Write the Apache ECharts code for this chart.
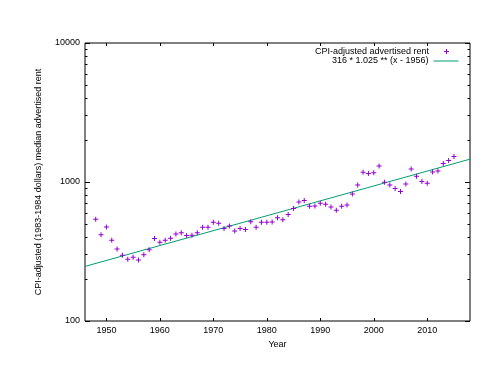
<!DOCTYPE html>
<html>
<head>
<meta charset="utf-8">
<script src="https://cdn.jsdelivr.net/npm/echarts@6/dist/echarts.min.js"></script>
<style>html,body{margin:0;padding:0;background:#fff;}#c{width:500px;height:386px;}</style>
</head>
<body>
<div id="c"></div>
<script>
var years = [1948,1949,1950,1951,1952,1953,1954,1955,1956,1957,1958,1959,1960,1961,1962,1963,1964,1965,1966,1967,1968,1969,1970,1971,1972,1973,1974,1975,1976,1977,1978,1979,1980,1981,1982,1983,1984,1985,1986,1987,1988,1989,1990,1991,1992,1993,1994,1995,1996,1997,1998,1999,2000,2001,2002,2003,2004,2005,2006,2007,2008,2009,2010,2011,2012,2013,2014,2015];
var rent = [539,418,475,381,330,297,278,287,275,300,326,392,368,381,394,423,432,412,414,432,472,472,513,505,462,483,444,462,455,517,472,513,513,515,554,536,583,644,718,735,669,672,703,691,661,626,669,683,820,952,1174,1149,1168,1304,995,952,897,853,967,1240,1099,1007,979,1180,1200,1357,1426,1523];
var trendYears = [1946, 2018];
var trendValues = [247, 1460];
var xTickLabels = [1950,1960,1970,1980,1990,2000,2010];
var yTickLabels = [100,1000,10000];
var yMinorTicks = [200,300,400,500,600,700,800,900,2000,3000,4000,5000,6000,7000,8000,9000];

var scatterData = years.map(function(y,i){return [y, rent[i]];});
var trendData = trendYears.map(function(y,i){return [y, trendValues[i]];});
var minorLog = yMinorTicks.map(function(v){return Math.log10(v);});

var FONT = 'Liberation Sans, Arial, Helvetica, sans-serif';
var ser1 = 'CPI-adjusted advertised rent';
var ser2 = '316 * 1.025 ** (x - 1956)';
var plus = 'path://M4,0H6V4H10V6H6V10H4V6H0V4H4Z';

var chart = echarts.init(document.getElementById('c'), null, {renderer:'canvas'});
var xBase = {
  type:'value', min:1946, max:2018,
  axisLine:{show:false},
  splitLine:{show:false},
  axisTick:{show:true, inside:true, length:3, customValues:xTickLabels, lineStyle:{color:'#000', width:1}}
};
chart.setOption({
  animation:false,
  backgroundColor:'#fff',
  textStyle:{fontFamily:FONT},
  grid:{left:85, right:30, top:43, bottom:65, show:true, borderColor:'#000', borderWidth:1, containLabel:false},
  legend:[
    {data:[{name:ser1}], right:51, top:47, padding:0, align:'right', itemWidth:25, itemHeight:5, itemGap:0,
     textStyle:{fontFamily:FONT, fontSize:9, color:'#000'}},
    {data:[{name:ser2, itemStyle:{opacity:0}}], right:41, top:56.5, padding:0, align:'right', itemWidth:25, itemHeight:5, itemGap:0,
     lineStyle:{width:1},
     textStyle:{fontFamily:FONT, fontSize:9, color:'#000'}}
  ],
  xAxis:[
    Object.assign({}, xBase, {position:'bottom', name:'Year', nameLocation:'middle', nameGap:16,
      nameTextStyle:{fontFamily:FONT, fontSize:9, color:'#000'},
      axisLabel:{show:true, customValues:xTickLabels, fontFamily:FONT, fontSize:9, color:'#000', margin:5,
        formatter:function(v){return String(v);}}}),
    Object.assign({}, xBase, {position:'top', axisLabel:{show:false}})
  ],
  yAxis:[
    {type:'log', logBase:10, min:100, max:10000, interval:1, position:'left',
     name:'CPI-adjusted (1983-1984 dollars) median advertised rent', nameLocation:'middle', nameGap:42,
     nameTextStyle:{fontFamily:FONT, fontSize:9, color:'#000'},
     axisLine:{show:false}, splitLine:{show:false},
     axisTick:{show:true, inside:true, length:5, lineStyle:{color:'#000'}},
     axisLabel:{fontFamily:FONT, fontSize:9, color:'#000', margin:5,
       formatter:function(v){return String(Math.round(v));}}},
    {type:'log', logBase:10, min:100, max:10000, interval:1, position:'right',
     axisLine:{show:false}, splitLine:{show:false},
     axisTick:{show:true, inside:true, length:5, lineStyle:{color:'#000'}},
     axisLabel:{show:false}},
    {type:'value', min:2, max:4, position:'left',
     axisLine:{show:false}, splitLine:{show:false}, axisLabel:{show:false},
     axisTick:{show:true, inside:true, length:2.5, customValues:minorLog, lineStyle:{color:'#000'}}},
    {type:'value', min:2, max:4, position:'right',
     axisLine:{show:false}, splitLine:{show:false}, axisLabel:{show:false},
     axisTick:{show:true, inside:true, length:2.5, customValues:minorLog, lineStyle:{color:'#000'}}}
  ],
  series:[
    {name:ser1, type:'scatter', xAxisIndex:0, yAxisIndex:0, data:scatterData,
     symbol:plus, symbolSize:5, itemStyle:{color:'#9400d3', opacity:1}, z:3},
    {name:ser2, type:'line', xAxisIndex:0, yAxisIndex:0, data:trendData,
     symbol:'none', showSymbol:false, lineStyle:{color:'#009e73', width:1}, itemStyle:{color:'#009e73'}, z:2}
  ]
});
</script>
</body>
</html>
